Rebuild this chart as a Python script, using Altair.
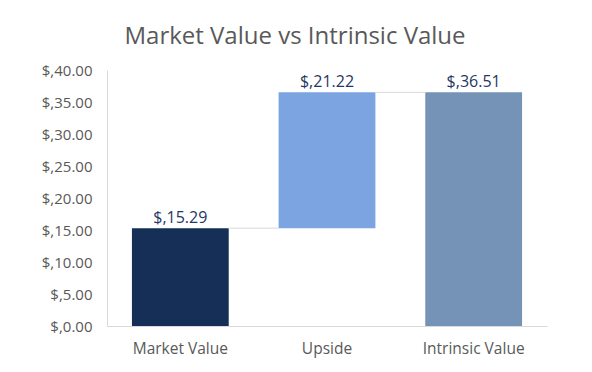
import altair as alt
import pandas as pd

categories = ["Market Value", "Upside", "Intrinsic Value"]
values = [15.29, 21.22, 36.51]
colors = ["#152f56", "#7ba4e1", "#7493b6"]

starts = [0, values[0], 0]
ends = [values[0], values[0] + values[1], values[2]]

df = pd.DataFrame({
    "cat": categories,
    "start": starts,
    "end": ends,
    "value": values,
    "label": ["$," + f"{v:.2f}" for v in values],
})

conn = pd.DataFrame({
    "from": categories[:-1],
    "to": categories[1:],
    "level": ends[:-1],
})

xscale = alt.Scale(domain=categories, paddingInner=0.34, paddingOuter=0.17)
yscale = alt.Scale(domain=[0, 40])
font = "Open Sans"

xaxis = alt.Axis(labelAngle=0, labelFont=font, labelFontSize=15.5, labelColor="#595959",
                 labelAlign="center", labelBaseline="top",
                 ticks=False, domainColor="#d9d9d9", labelPadding=15)
yaxis = alt.Axis(values=list(range(0, 41, 5)), labelExpr="'$,' + format(datum.value, '.2f')",
                 labelFont=font, labelFontSize=15, labelColor="#595959", grid=False,
                 labelOverlap=False, ticks=False, domainColor="#d9d9d9", labelPadding=15)

bars = alt.Chart(df).mark_bar().encode(
    x=alt.X("cat:N", scale=xscale, sort=categories, title=None, axis=xaxis),
    y=alt.Y("start:Q", scale=yscale, title=None, axis=yaxis),
    y2="end:Q",
    color=alt.Color("cat:N", scale=alt.Scale(domain=categories, range=colors), legend=None),
)

rules = alt.Chart(conn).mark_rule(color="#d9d9d9", strokeWidth=1).encode(
    x=alt.X("from:N", scale=xscale, sort=categories, bandPosition=1, title=None, axis=xaxis),
    x2=alt.X2("to:N", bandPosition=0),
    y=alt.Y("level:Q", scale=yscale, title=None, axis=yaxis),
)

labels = alt.Chart(df).mark_text(font=font, fontSize=16, color="#1f3864", baseline="alphabetic", dy=-5).encode(
    x=alt.X("cat:N", scale=xscale, sort=categories, title=None, axis=xaxis),
    y=alt.Y("end:Q", scale=yscale, title=None, axis=yaxis),
    text="label:N",
)

chart = alt.layer(bars, rules, labels).properties(
    width=440, height=256,
    autosize=alt.AutoSizeParams(type="none"),
    padding={"left": 99, "top": 62, "right": 37, "bottom": 38},
    title=alt.TitleParams("Market Value vs Intrinsic Value", font=font, fontSize=24,
                          fontWeight="normal", color="#595959", anchor="middle", dx=-32, offset=14),
).configure_view(stroke=None)

chart.save("out.html", embed_options={"renderer": "svg", "actions": False})
